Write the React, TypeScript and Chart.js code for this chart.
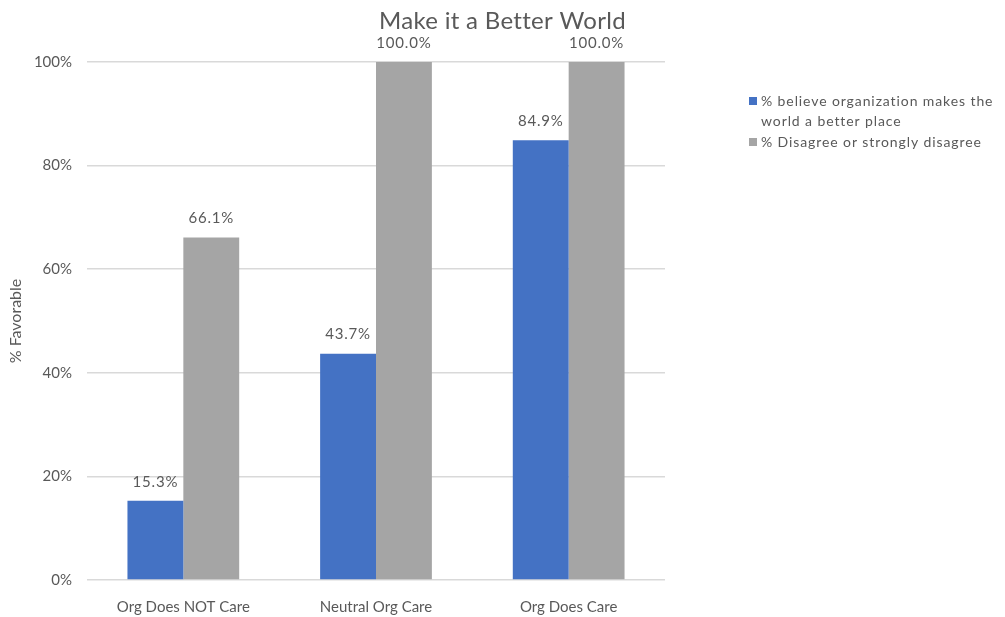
import React, { useEffect, useRef } from "react";
import { Chart, registerables } from "chart.js";

Chart.register(...registerables);

const TITLE = "Make it a Better World";
const CATEGORIES = ["Org Does NOT Care", "Neutral Org Care", "Org Does Care"];
const SERIES_BELIEVE_LABEL = "% believe organization makes the world a better place";
const SERIES_DISAGREE_LABEL = "% Disagree or strongly disagree";
const BELIEVE_VALUES = [15.3, 43.7, 84.9];
const DISAGREE_VALUES = [66.1, 100.0, 100.0];
const Y_TICKS = [0, 20, 40, 60, 80, 100];
const Y_TITLE = "% Favorable";

const BLUE = "#4472C4";
const GRAY = "#A5A5A5";
const TEXT = "#595959";
const FONT = "Lato, 'Open Sans', sans-serif";

const titlePlugin = {
  id: "centeredTitle",
  afterDraw(chart: any) {
    const ctx = chart.ctx;
    ctx.save();
    ctx.font = `24px ${FONT}`;
    (ctx as any).letterSpacing = "0.3px";
    ctx.fillStyle = TEXT;
    ctx.textAlign = "center";
    ctx.textBaseline = "middle";
    ctx.fillText(TITLE, chart.width / 2, 21);
    ctx.restore();
  },
};

const labelPlugin = {
  id: "valueLabels",
  afterDatasetsDraw(chart: any) {
    const ctx = chart.ctx;
    ctx.save();
    ctx.font = `15px ${FONT}`;
    (ctx as any).letterSpacing = "0.8px";
    ctx.fillStyle = TEXT;
    ctx.textAlign = "center";
    ctx.textBaseline = "middle";
    chart.data.datasets.forEach((ds: any, i: number) => {
      const meta = chart.getDatasetMeta(i);
      meta.data.forEach((bar: any, j: number) => {
        const v = ds.data[j] as number;
        ctx.fillText(v.toFixed(1) + "%", bar.x, bar.y - 19);
      });
    });
    ctx.restore();
  },
};

const legendPlugin = {
  id: "sideLegend",
  afterDraw(chart: any) {
    const ctx = chart.ctx;
    ctx.save();
    ctx.font = `14px ${FONT}`;
    (ctx as any).letterSpacing = "0.9px";
    ctx.textBaseline = "middle";
    ctx.textAlign = "left";
    const x0 = 749;
    const maxW = 245;
    let y = 101;
    const lineH = 20;
    chart.data.datasets.forEach((ds: any) => {
      const words = String(ds.label).split(" ");
      const lines: string[] = [];
      let cur = "";
      words.forEach((w) => {
        const t = cur ? cur + " " + w : w;
        if (ctx.measureText(t).width > maxW && cur) {
          lines.push(cur);
          cur = w;
        } else cur = t;
      });
      if (cur) lines.push(cur);
      ctx.fillStyle = ds.backgroundColor;
      ctx.fillRect(x0, y - 4, 8, 8);
      ctx.fillStyle = TEXT;
      lines.forEach((ln, k) => {
        ctx.fillText(ln, x0 + 12, y + k * lineH);
      });
      y += lines.length * lineH + 1;
    });
    ctx.restore();
  },
};

export default function App() {
  const ref = useRef<HTMLCanvasElement>(null);
  useEffect(() => {
    if (!ref.current) return;
    const chart = new Chart(ref.current, {
      type: "bar",
      data: {
        labels: CATEGORIES,
        datasets: [
          { label: SERIES_BELIEVE_LABEL, data: BELIEVE_VALUES, backgroundColor: BLUE, categoryPercentage: 0.58, barPercentage: 1.0 },
          { label: SERIES_DISAGREE_LABEL, data: DISAGREE_VALUES, backgroundColor: GRAY, categoryPercentage: 0.58, barPercentage: 1.0 },
        ],
      },
      options: {
        responsive: false,
        animation: false,
        layout: { padding: { left: 0, right: 340, top: 62, bottom: 0 } },
        plugins: {
          legend: { display: false },
          tooltip: { enabled: false },
          title: { display: false },
        },
        scales: {
          x: {
            grid: { display: false, drawTicks: false },
            border: { display: false },
            afterFit(scale: any) {
              scale.height = 37;
            },
            ticks: { color: TEXT, font: { family: FONT, size: 15 }, padding: 18 },
          },
          y: {
            min: 0,
            max: 100,
            afterBuildTicks(scale: any) {
              scale.ticks = Y_TICKS.map((v) => ({ value: v }));
            },
            afterFit(scale: any) {
              scale.width = 87;
            },
            grid: { color: "#D9D9D9", lineWidth: 1.5, drawTicks: false },
            border: { display: false },
            ticks: {
              color: TEXT,
              font: { family: FONT, size: 15 },
              padding: 15,
              callback: (v: any) => v + "%",
            },
            title: {
              display: true,
              text: Y_TITLE,
              color: TEXT,
              font: { family: FONT, size: 16 },
              padding: { top: 6, bottom: 0 },
            },
          },
        },
      },
      plugins: [labelPlugin, legendPlugin, titlePlugin],
    } as any);
    return () => chart.destroy();
  }, []);
  return (
    <div style={{ position: "absolute", left: 0, top: 0, width: 1005, height: 617, background: "#fff" }}>
      <canvas ref={ref} width={1005} height={617} style={{ display: "block" }} />
    </div>
  );
}
